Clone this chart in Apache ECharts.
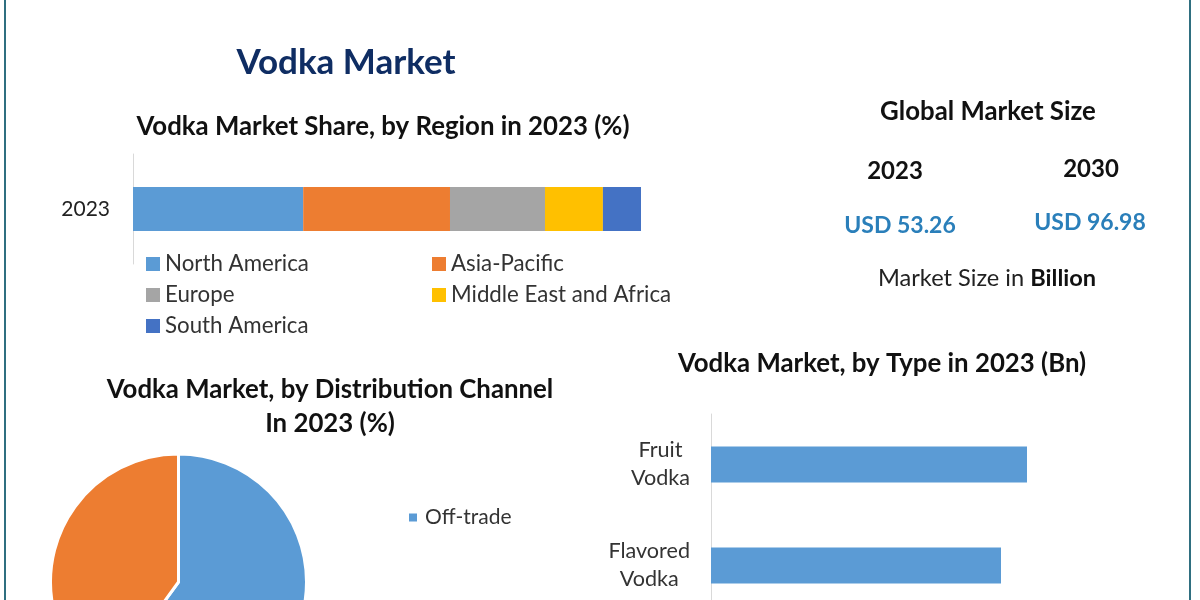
<!DOCTYPE html>
<html>
<head>
<meta charset="utf-8">
<title>Vodka Market</title>
<script src="https://cdn.jsdelivr.net/npm/echarts@6/dist/echarts.min.js"></script>
<style>
  html, body { margin: 0; padding: 0; background: #fff; }
  #main { width: 1200px; height: 600px; }
</style>
</head>
<body>
<div id="main"></div>
<script>
var regionNames = ['North America', 'Asia-Pacific', 'Europe', 'Middle East and Africa', 'South America'];
var regionShares = [33.5, 28.9, 18.7, 11.4, 7.5];
var regionColors = ['#5B9BD5', '#ED7D31', '#A5A5A5', '#FFC000', '#4472C4'];
var regionYear = ['2023'];

var channelNames = ['Off-trade', 'On-trade'];
var channelShares = [60, 40];

var typeNames = ['Fruit Vodka', 'Flavored Vodka'];
var typeValues = [15.8, 14.5];

var FONT = 'Lato';
var chart = echarts.init(document.getElementById('main'), null, { renderer: 'canvas' });

function heading(text, cx, y, size, color, lineHeight) {
  return {
    text: text,
    left: cx,
    top: y,
    padding: 0,
    textAlign: 'center',
    textVerticalAlign: 'middle',
    textStyle: { fontFamily: FONT, fontSize: size, fontWeight: 'bold', color: color || '#111', lineHeight: lineHeight || 37 }
  };
}

var regionSeries = regionNames.map(function (name, i) {
  return {
    name: name,
    type: 'bar',
    stack: 'region',
    xAxisIndex: 0,
    yAxisIndex: 0,
    barWidth: 44,
    silent: true,
    itemStyle: { color: regionColors[i] },
    data: [regionShares[i]]
  };
});

var option = {
  animation: false,
  backgroundColor: '#fff',
  title: [
    heading('Vodka Market', 346, 63, 35, '#0F2D63'),
    heading('Vodka Market Share, by Region in 2023 (%)', 383, 127, 25.8),
    heading('Global Market Size', 988, 112, 25.8),
    heading('2023', 895, 171, 24),
    heading('2030', 1091, 169, 24),
    heading('USD 53.26', 900, 226, 23, '#2A7FBA'),
    heading('USD 96.98', 1090, 223, 23, '#2A7FBA'),
    heading('Vodka Market, by Distribution Channel\nIn 2023 (%)', 330, 407, 25.8, '#111', 34),
    heading('Vodka Market, by Type in 2023 (Bn)', 882, 364, 25.8)
  ],
  graphic: [
    { type: 'rect', shape: { x: 4, y: 0, width: 2, height: 600 }, style: { fill: '#2F6F80' } },
    { type: 'rect', shape: { x: 1189, y: 0, width: 2, height: 600 }, style: { fill: '#2F6F80' } },
    {
      type: 'text', x: 878, y: 278,
      style: {
        text: '{a|Market Size in }{b|Billion}',
        verticalAlign: 'middle',
        rich: {
          a: { fontFamily: FONT, fontSize: 23.6, fill: '#222' },
          b: { fontFamily: FONT, fontSize: 23.6, fontWeight: 'bold', fill: '#111' }
        }
      }
    }
  ],
  legend: [
    {
      left: 146,
      top: 253,
      width: 570,
      padding: 0,
      orient: 'horizontal',
      itemWidth: 14,
      itemHeight: 14,
      itemGap: 9,
      icon: 'rect',
      selectedMode: false,
      data: regionNames,
      textStyle: { fontFamily: FONT, fontSize: 22.3, color: '#333', width: 258, lineHeight: 22 }
    },
    {
      left: 407,
      top: 507,
      padding: 0,
      itemWidth: 10,
      itemHeight: 10,
      icon: 'rect',
      selectedMode: false,
      data: [channelNames[0]],
      textStyle: { fontFamily: FONT, fontSize: 21, color: '#333', padding: [0, 0, 0, 2] }
    }
  ],
  grid: [
    { left: 133, top: 154, width: 508, height: 110, outerBoundsMode: 'none' },
    { left: 711, top: 414, width: 400, height: 202, outerBoundsMode: 'none' }
  ],
  xAxis: [
    { type: 'value', gridIndex: 0, min: 0, max: 100, show: false },
    { type: 'value', gridIndex: 1, min: 0, max: 20, show: false }
  ],
  yAxis: [
    {
      type: 'category',
      gridIndex: 0,
      data: regionYear,
      axisLine: { lineStyle: { color: '#D9D9D9' } },
      axisTick: { show: false },
      axisLabel: { margin: 23, fontFamily: FONT, fontSize: 21, color: '#222' }
    },
    {
      type: 'category',
      gridIndex: 1,
      inverse: true,
      data: typeNames,
      axisLine: { lineStyle: { color: '#D9D9D9' } },
      axisTick: { show: false },
      axisLabel: {
        margin: 21,
        formatter: function (value) {
          return value.split(' ').map(function (w) { return '{w|' + w + '}'; }).join('\n');
        },
        rich: {
          w: { fontFamily: FONT, fontSize: 21.6, color: '#333', align: 'center', lineHeight: 28 }
        }
      }
    }
  ],
  series: regionSeries.concat([
    {
      name: 'Channel',
      type: 'pie',
      center: [178.5, 582],
      radius: [0, 128],
      startAngle: 90,
      silent: true,
      label: { show: false },
      labelLine: { show: false },
      itemStyle: { borderColor: '#fff', borderWidth: 3 },
      data: channelNames.map(function (name, i) {
        return { name: name, value: channelShares[i], itemStyle: { color: regionColors[i] } };
      })
    },
    {
      name: 'Type',
      type: 'bar',
      xAxisIndex: 1,
      yAxisIndex: 1,
      barWidth: 36,
      silent: true,
      itemStyle: { color: regionColors[0] },
      data: typeValues
    }
  ])
};

chart.setOption(option);
</script>
</body>
</html>
